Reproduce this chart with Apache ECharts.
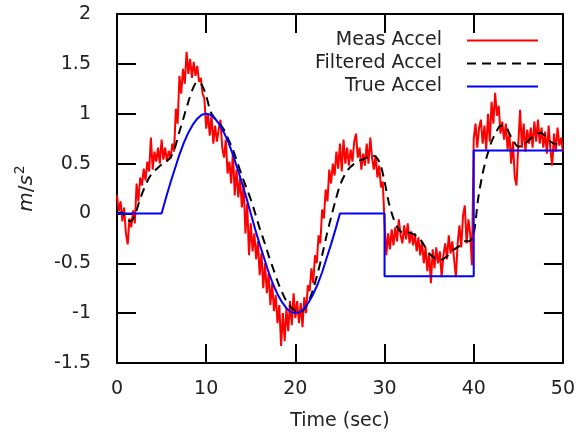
<!DOCTYPE html>
<html>
<head>
<meta charset="utf-8">
<script src="https://cdn.jsdelivr.net/npm/echarts@6/dist/echarts.min.js"></script>
<style>
  html, body { margin: 0; padding: 0; background: #fff; }
  #chart { width: 578px; height: 436px; }
</style>
</head>
<body>
<div id="chart"></div>
<script>
// sample spacing of the measured / filtered traces (seconds)
const measStep = 0.2;
const filtStep = 0.5;

// measured acceleration, one value per 0.2 s from t = 0 to 50
const measAccel = [
  0.18, 0.02, 0.12, -0.08, 0.06, -0.2, -0.31, -0.05, -0.14, 0.03,
  -0.1, 0.3, 0.12, 0.36, 0.28, 0.45, 0.33, 0.52, 0.42, 0.76,
  0.44, 0.62, 0.52, 0.66, 0.5, 0.74, 0.54, 0.66, 0.52, 0.63,
  0.55, 0.7, 0.62, 1.05, 0.9, 1.38, 1.2, 1.45, 1.3, 1.62,
  1.4, 1.55, 1.36, 1.52, 1.38, 1.48, 1.32, 1.36, 1.2, 1.15,
  0.85,
  1.0, 0.78, 0.98, 0.7, 0.88, 0.72, 0.84, 0.94, 0.66, 0.56,
  0.74, 0.4, 0.52, 0.3, 0.62, 0.18, 0.44, 0.16, 0.36, 0.06,
  0.3, -0.2, 0.1, -0.42, -0.1, -0.38, -0.2, -0.46, -0.28, -0.62,
  -0.4, -0.75, -0.5, -0.8, -0.6, -0.92, -0.7, -0.98, -0.82, -1.1,
  -0.92, -1.33, -1.0, -1.28, -0.95, -1.18, -0.88, -1.12, -0.8, -1.05,
  -0.88, -1.1, -0.9, -1.14, -0.84, -1.0, -0.72, -0.78, -0.55, -0.7,
  -0.42, -0.5, -0.22, -0.3, 0.04, -0.05, 0.24, 0.12, 0.44, 0.3,
  0.5, 0.38, 0.62, 0.45, 0.7, 0.42, 0.74, 0.5, 0.66, 0.48,
  0.64, 0.52, 0.72, 0.8, 0.56, 0.66, 0.44, 0.6, 0.48, 0.7,
  0.5, 0.76, 0.56, 0.44, 0.58, 0.36, 0.48, 0.26, 0.32, -0.1,
  -0.42, -0.2, -0.36, -0.16, -0.32, -0.14, -0.28, -0.06, -0.22, -0.3,
  -0.12, -0.26, -0.1, -0.3, -0.18, -0.32, -0.2, -0.38, -0.24, -0.42,
  -0.28, -0.5, -0.34, -0.58, -0.4, -0.7, -0.36, -0.55, -0.34, -0.5,
  -0.38, -0.64, -0.42, -0.3, -0.46, -0.22, -0.4, -0.28, -0.46, -0.64,
  -0.3, -0.12, -0.34, -0.02, 0.08, -0.3, -0.06, -0.2, -0.52, 0.75,
  0.9, 0.66, 0.86, 0.94, 0.7, 0.88, 0.64, 1.0, 0.72, 1.12,
  0.9, 1.21, 0.98, 1.08, 0.8, 0.92, 0.74, 0.9, 0.64, 0.8,
  0.5, 0.72, 0.36, 0.28, 0.7, 1.04, 0.66, 0.9, 0.62, 0.84,
  0.7, 0.86, 0.66, 0.92, 0.72, 0.94, 0.7, 0.86, 0.66, 0.82,
  0.6, 0.88, 0.64, 0.48, 0.8, 0.62, 0.86, 0.68, 0.76, 0.62
];

// filtered acceleration, one value per 0.5 s
const filtAccel = [
  0.0, 0.01, -0.05, -0.08, -0.02, 0.12, 0.24, 0.34, 0.41, 0.45,
  0.49, 0.52, 0.56, 0.66, 0.82, 0.97, 1.12, 1.25, 1.32, 1.29,
  1.18, 1.02, 0.95, 0.9, 0.84, 0.74, 0.64, 0.51, 0.38, 0.26,
  0.14, 0.0, -0.15, -0.28, -0.42, -0.55, -0.68, -0.79, -0.88, -0.94,
  -0.98, -0.99, -0.96, -0.88, -0.76, -0.6, -0.42, -0.22, -0.04, 0.13,
  0.28, 0.38, 0.45, 0.49, 0.52, 0.54, 0.56, 0.58, 0.57, 0.5,
  0.32, 0.1, -0.05, -0.15, -0.19, -0.19, -0.2, -0.22, -0.26, -0.33,
  -0.4, -0.44, -0.47, -0.46, -0.43, -0.38, -0.35, -0.32, -0.28, -0.28,
  -0.2, 0.15, 0.4, 0.58, 0.72, 0.81, 0.88, 0.88, 0.8, 0.72,
  0.67, 0.68, 0.72, 0.76, 0.79, 0.81, 0.78, 0.73, 0.7, 0.69,
  0.66
];

// true acceleration, read as time / value pairs (has vertical steps)
const trueTime = [
  0, 5, 5.5, 6, 6.5, 7, 7.5, 8, 8.5, 9, 9.5, 10,
  10.5, 11, 11.5, 12, 12.5, 13, 13.5, 14, 14.5, 15,
  15.5, 16, 16.5, 17, 17.5, 18, 18.5, 19, 19.5, 20,
  20.5, 21, 21.5, 22, 22.5, 23, 23.5, 24, 24.5, 25,
  30, 30, 40, 40, 50
];
const trueAccel = [
  0, 0, 0.16, 0.31, 0.45, 0.59, 0.71, 0.81, 0.89, 0.95, 0.99, 1.0,
  0.99, 0.95, 0.89, 0.81, 0.71, 0.59, 0.45, 0.31, 0.16, 0,
  -0.16, -0.31, -0.45, -0.59, -0.71, -0.81, -0.89, -0.95, -0.99, -1.0,
  -0.99, -0.95, -0.89, -0.81, -0.71, -0.59, -0.45, -0.31, -0.16, 0,
  0, -0.63, -0.63, 0.63, 0.63
];

const seriesNames = ['Meas Accel', 'Filtered Accel', 'True Accel'];
const xTicks = { min: 0, max: 50, step: 10 };
const yTicks = { min: -1.5, max: 2, step: 0.5 };

const font = 'DejaVu Sans';
const fs = 19;
const txt = '#222';

const measData = measAccel.map((v, i) => [i * measStep, v]);
const filtData = filtAccel.map((v, i) => [i * filtStep, v]);
const trueData = trueAccel.map((v, i) => [trueTime[i], v]);

const frameLine = { show: true, onZero: false, lineStyle: { color: '#000', width: 2 } };
const innerTick = { show: true, inside: true, length: 19, lineStyle: { color: '#000', width: 2 } };

// one legend per entry so the text can be right-aligned against the samples
function legendRow(name, top) {
  return {
    data: [name],
    right: 39,
    top: top,
    align: 'right',
    orient: 'vertical',
    padding: 0,
    itemWidth: 71,
    itemHeight: 18,
    selectedMode: false,
    itemStyle: { opacity: 0 },   // hide the marker, keep the line sample
    textStyle: { fontFamily: font, fontSize: fs, color: txt, padding: [0, 20, 0, 0] }
  };
}

const chart = echarts.init(document.getElementById('chart'), null, { renderer: 'canvas' });
chart.setOption({
  animation: false,
  backgroundColor: '#fff',
  grid: { left: 117, right: 11, top: 14, bottom: 71, containLabel: false },
  legend: [
    legendRow(seriesNames[0], 31),
    legendRow(seriesNames[1], 54),
    legendRow(seriesNames[2], 77)
  ],
  xAxis: [
    {
      type: 'value', min: xTicks.min, max: xTicks.max, interval: xTicks.step,
      name: 'Time (sec)', nameLocation: 'middle', nameGap: 49,
      nameTextStyle: { fontFamily: font, fontSize: fs, color: txt },
      axisLine: frameLine, axisTick: innerTick,
      axisLabel: { fontFamily: font, fontSize: fs, color: txt, margin: 17 },
      splitLine: { show: false }
    },
    {
      type: 'value', position: 'top', min: xTicks.min, max: xTicks.max, interval: xTicks.step,
      axisLine: frameLine, axisTick: innerTick,
      axisLabel: { show: false }, splitLine: { show: false }
    }
  ],
  yAxis: [
    {
      type: 'value', min: yTicks.min, max: yTicks.max, interval: yTicks.step,
      name: '{it|m}{n|/}{it|s}{sup|2}', nameLocation: 'middle', nameGap: 76,
      nameTextStyle: {
        fontFamily: font, fontSize: 20, color: txt,
        rich: {
          it: { fontFamily: font, fontSize: 20, fontStyle: 'italic', color: txt, lineHeight: 28 },
          n: { fontFamily: font, fontSize: 20, color: txt, lineHeight: 28 },
          sup: { fontFamily: font, fontSize: 14, color: txt, lineHeight: 14, verticalAlign: 'top', padding: [0, 0, 0, 1] }
        }
      },
      axisLine: frameLine, axisTick: innerTick,
      axisLabel: { fontFamily: font, fontSize: fs, color: txt, margin: 26 },
      splitLine: { show: false }
    },
    {
      type: 'value', position: 'right', min: yTicks.min, max: yTicks.max, interval: yTicks.step,
      axisLine: frameLine, axisTick: innerTick,
      axisLabel: { show: false }, splitLine: { show: false }
    }
  ],
  series: [
    {
      name: seriesNames[0], type: 'line', data: measData,
      showSymbol: false, symbol: 'none',
      lineStyle: { color: '#ff0000', width: 2 }, itemStyle: { color: '#ff0000' }
    },
    {
      name: seriesNames[1], type: 'line', data: filtData, smooth: 0.3,
      showSymbol: false, symbol: 'none',
      lineStyle: { color: '#000', width: 2, type: [9, 6] }, itemStyle: { color: '#000' }
    },
    {
      name: seriesNames[2], type: 'line', data: trueData, smooth: false,
      showSymbol: false, symbol: 'none',
      lineStyle: { color: '#0000ff', width: 2 }, itemStyle: { color: '#0000ff' }
    }
  ]
});
</script>
</body>
</html>
